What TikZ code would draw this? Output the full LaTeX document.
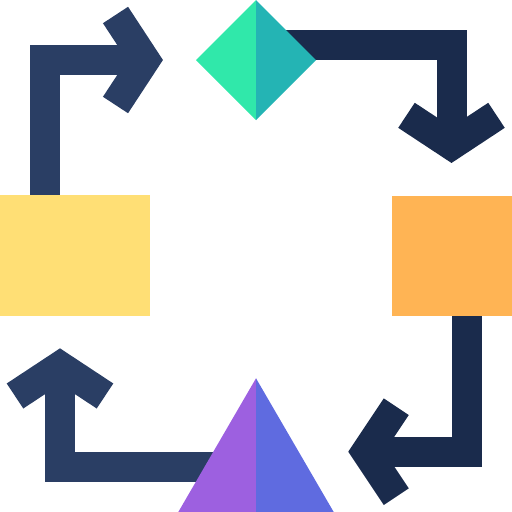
\documentclass[tikz,border=0pt]{standalone}
\definecolor{navyA}{HTML}{2A3E64}
\definecolor{navyB}{HTML}{1A2B4C}
\definecolor{greenD}{HTML}{30E8AA}
\definecolor{tealD}{HTML}{24B4B4}
\definecolor{purpT}{HTML}{9D60E0}
\definecolor{blueT}{HTML}{5F6BE0}
\definecolor{yellowR}{HTML}{FFDF75}
\definecolor{orangeR}{HTML}{FFB454}
\begin{document}
\begin{tikzpicture}[x=1pt,y=-1pt,
  arrowline/.style={line width=30pt,line join=miter,line cap=butt,miter limit=10}]
\useasboundingbox (0,0) rectangle (512,512);
% arrows
\draw[arrowline,navyA] (45,195) -- (45,60) -- (145,60);
\draw[arrowline,navyA] (115.5,15) -- (145,60) -- (115.5,105);
\draw[arrowline,navyB] (286,45) -- (451.5,45) -- (451.5,145);
\draw[arrowline,navyB] (406.5,115.3) -- (451.5,145) -- (496.5,115.3);
\draw[arrowline,navyB] (466.7,316) -- (466.7,451.7) -- (366.3,451.7);
\draw[arrowline,navyB] (396.3,406.7) -- (366.3,451.7) -- (396.3,496.7);
\draw[arrowline,navyA] (220,466.7) -- (60,466.7) -- (60,366.3);
\draw[arrowline,navyA] (15,396) -- (60,366.3) -- (105,396);
% rectangles
\fill[yellowR] (0,195) rectangle (150,316);
\fill[orangeR] (391.7,196) rectangle (512,316);
% diamond
\fill[greenD] (256,0) -- (196,60) -- (256,120) -- cycle;
\fill[tealD] (256,0) -- (316,60) -- (256,120) -- cycle;
% triangle
\fill[purpT] (256,378.3) -- (178.3,512) -- (256,512) -- cycle;
\fill[blueT] (256,378.3) -- (333.7,512) -- (256,512) -- cycle;
\end{tikzpicture}
\end{document}
